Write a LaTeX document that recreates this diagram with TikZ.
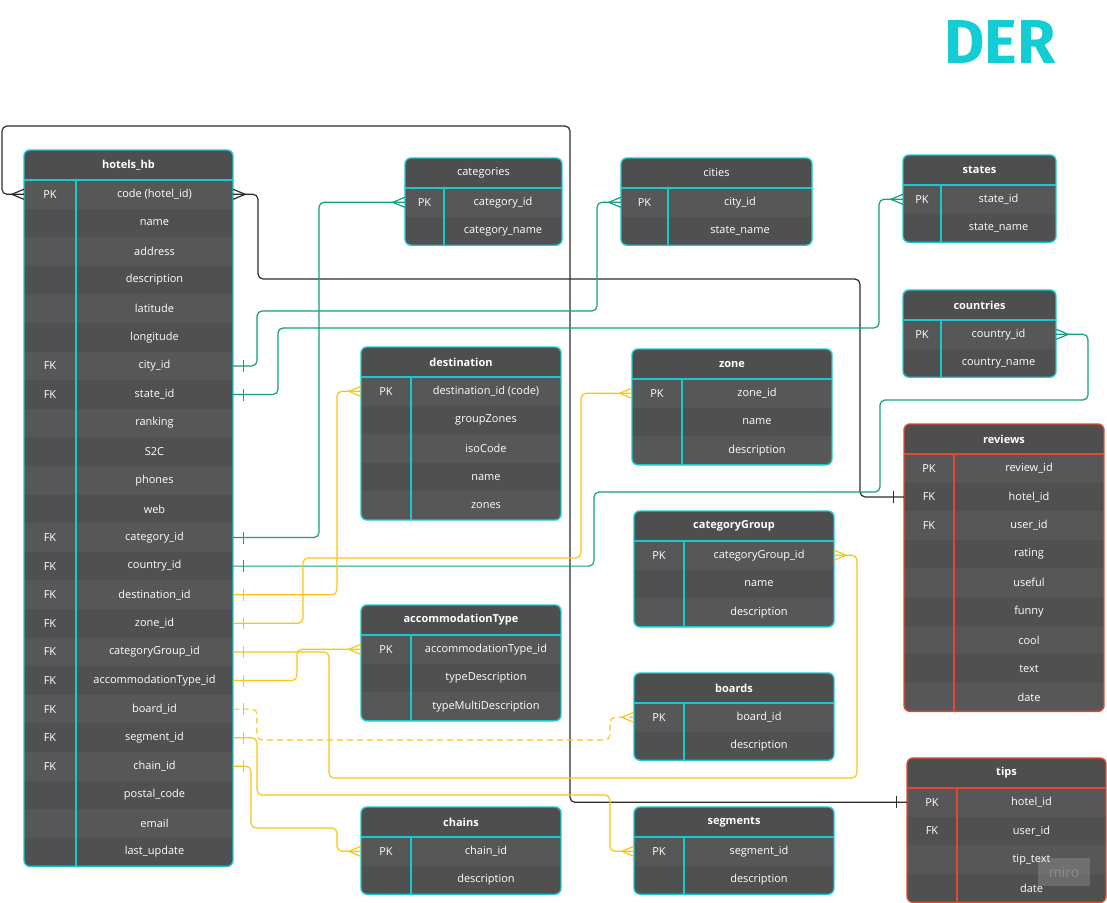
\documentclass[tikz,border=0pt]{standalone}
\usepackage{fontspec}
\setmainfont{Open Sans}
\newfontfamily\derfont{Fira Sans}
\usetikzlibrary{arrows.meta}
\definecolor{dercyan}{RGB}{20,204,212}
\definecolor{tblcyan}{RGB}{22,200,208}
\definecolor{tblred}{RGB}{226,72,46}
\definecolor{headfill}{RGB}{78,78,78}
\definecolor{rowa}{RGB}{87,87,87}
\definecolor{rowb}{RGB}{80,80,80}
\definecolor{linkteal}{RGB}{20,158,128}
\definecolor{linkyellow}{RGB}{250,199,16}
\definecolor{linkdark}{RGB}{45,45,45}

% crow's foot (many) and single bar (one)
\pgfdeclarearrow{
  name = Crow,
  setup code = {
    \pgfarrowssettipend{0pt}
    \pgfarrowssetlineend{0pt}
    \pgfarrowssetbackend{-12pt}
    \pgfarrowsupperhullpoint{0pt}{5pt}
    \pgfarrowsupperhullpoint{-12pt}{0pt}
  },
  drawing code = {
    \pgfsetdash{}{0pt}
    \pgfpathmoveto{\pgfqpoint{0pt}{5pt}}
    \pgfpathlineto{\pgfqpoint{-12pt}{0pt}}
    \pgfpathlineto{\pgfqpoint{0pt}{-5pt}}
    \pgfusepathqstroke
  }
}
\pgfdeclarearrow{
  name = One,
  setup code = {
    \pgfarrowssettipend{0pt}
    \pgfarrowssetlineend{0pt}
    \pgfarrowssetbackend{-10pt}
    \pgfarrowsupperhullpoint{0pt}{6pt}
    \pgfarrowsupperhullpoint{-10pt}{6pt}
  },
  drawing code = {
    \pgfsetdash{}{0pt}
    \pgfpathmoveto{\pgfqpoint{-10pt}{6pt}}
    \pgfpathlineto{\pgfqpoint{-10pt}{-6pt}}
    \pgfusepathqstroke
  }
}

\tikzset{
  celltext/.style={text=white, inner sep=0pt, minimum height=28.6pt,
    font=\fontsize{11}{13}\selectfont},
  headtext/.style={text=white, inner sep=0pt, font=\fontsize{11}{13}\selectfont},
  rel/.style={line width=1.2pt, rounded corners=5pt, One-Crow}
}

% table: name, left, top, width, key column, border colour, title, rows
\newcommand{\erdtable}[8]{%
  \foreach[count=\n] \kk/\ff in {#8} {\xdef\rowcount{\n}}
  \pgfmathsetmacro\tabbot{#3+30+\rowcount*28.6}
  \begin{scope}
    \clip[rounded corners=6pt] (#2,#3) rectangle (#2+#4,\tabbot);
    \fill[headfill] (#2,#3) rectangle (#2+#4,#3+30);
    \foreach[count=\r] \kk/\ff in {#8} {
      \pgfmathsetmacro\ya{#3+30+(\r-1)*28.6}
      \ifodd\r\relax\def\rowshade{rowa}\else\def\rowshade{rowb}\fi
      \fill[\rowshade] (#2,\ya) rectangle (#2+#4,\ya+28.6);
      \node[celltext, minimum width={#5*1pt}] (#1-key\r) at (#2+#5/2,\ya+14.3) {\kk};
      \node[celltext, minimum width={(#4-#5)*1pt}] (#1-\r) at (#2+#5/2+#4/2,\ya+14.3) {\ff};
    }
  \end{scope}
  \draw[#6, line width=1.3pt] (#2,#3+30) -- (#2+#4,#3+30);
  \draw[#6, line width=1.3pt] (#2+#5,#3+30) -- (#2+#5,\tabbot);
  \draw[#6, line width=1.4pt, rounded corners=6pt] (#2,#3) rectangle (#2+#4,\tabbot);
  \node[headtext] (#1) at (#2+#4/2,#3+15) {#7};
}

\begin{document}
\begin{tikzpicture}[x=1pt, y=-1pt, line join=round]
  \useasboundingbox (0,0) rectangle (1107,902);
  \fill[white] (0,0) rectangle (1107,902);

  % Title
  \node[text=dercyan, anchor=base, inner sep=0pt,
        font=\fontsize{62}{62}\derfont\bfseries] (der) at (1000,63) {DER};

  % Tables
  \erdtable{hotels}{24}{150}{209}{52}{tblcyan}{\bfseries hotels\_hb}{PK/code (hotel\_id), /name, /address, /description, /latitude, /longitude, FK/city\_id, FK/state\_id, /ranking, /S2C, /phones, /web, FK/category\_id, FK/country\_id, FK/destination\_id, FK/zone\_id, FK/categoryGroup\_id, FK/accommodationType\_id, FK/board\_id, FK/segment\_id, FK/chain\_id, /postal\_code, /email, /last\_update}
  \erdtable{categories}{405}{158}{157}{39}{tblcyan}{categories}{PK/category\_id, /category\_name}
  \erdtable{cities}{621}{158}{191}{47}{tblcyan}{cities}{PK/city\_id, /state\_name}
  \erdtable{states}{903}{155}{153}{38}{tblcyan}{\bfseries states}{PK/state\_id, /state\_name}
  \erdtable{countries}{903}{290}{153}{38}{tblcyan}{\bfseries countries}{PK/country\_id, /country\_name}
  \erdtable{destination}{361}{347}{200}{50}{tblcyan}{\bfseries destination}{PK/destination\_id (code), /groupZones, /isoCode, /name, /zones}
  \erdtable{zone}{632}{349}{200}{50}{tblcyan}{\bfseries zone}{PK/zone\_id, /name, /description}
  \erdtable{reviews}{904}{424}{200}{50}{tblred}{\bfseries reviews}{PK/review\_id, FK/hotel\_id, FK/user\_id, /rating, /useful, /funny, /cool, /text, /date}
  \erdtable{catgroup}{634}{511}{200}{50}{tblcyan}{\bfseries categoryGroup}{PK/categoryGroup\_id, /name, /description}
  \erdtable{acctype}{361}{605}{200}{50}{tblcyan}{\bfseries accommodationType}{PK/accommodationType\_id, /typeDescription, /typeMultiDescription}
  \erdtable{boards}{634}{673}{200}{50}{tblcyan}{\bfseries boards}{PK/board\_id, /description}
  \erdtable{tips}{907}{758}{199}{50}{tblred}{\bfseries tips}{PK/hotel\_id, FK/user\_id, /tip\_text, /date}
  \erdtable{chains}{361}{807}{200}{50}{tblcyan}{\bfseries chains}{PK/chain\_id, /description}
  \erdtable{segments}{634}{807}{200}{50}{tblcyan}{\bfseries segments}{PK/segment\_id, /description}

  % hotels to tips and reviews
  \draw[rel, linkdark, Crow-One] (hotels-key1.west) -| (2,126) -| (570,500) |- (tips-key1.west);
  \draw[rel, linkdark, Crow-One] (hotels-1.east) -| (258,279) -| (860,400) |- (reviews-key2.west);

  % location and category links
  \draw[rel, linkteal] (hotels-7.east) -| (257,311) -| (597,250) |- (cities-key1.west);
  \draw[rel, linkteal] (hotels-8.east) -| (278,328) -| (879,250) |- (states-key1.west);
  \draw[rel, linkteal] (hotels-13.east) -| (319,400) |- (categories-key1.west);
  \draw[rel, linkteal] (hotels-14.east) -| (594,492) -| (880,400) -| (1088,360) |- (countries-1.east);

  % hotelbeds catalogue links
  \draw[rel, linkyellow] (hotels-15.east) -| (337,450) |- (destination-key1.west);
  \draw[rel, linkyellow] (hotels-16.east) -| (303,558) -| (581,450) |- (zone-key1.west);
  \draw[rel, linkyellow] (hotels-17.east) -| (329,778) -| (857,650) |- (catgroup-1.east);
  \draw[rel, linkyellow] (hotels-18.east) -| (297,665) |- (acctype-key1.west);
  \draw[rel, linkyellow, dash pattern=on 6pt off 4pt] (hotels-19.east) -| (257,740) -| (610,730) |- (boards-key1.west);
  \draw[rel, linkyellow] (hotels-20.east) -| (257,795) -| (610,830) |- (segments-key1.west);
  \draw[rel, linkyellow] (hotels-21.east) -| (251,828) -| (337,840) |- (chains-key1.west);

  % watermark
  \node[fill=white, fill opacity=0.15, text opacity=1, text=white!55!black,
        minimum width=52pt, minimum height=28pt, inner sep=0pt,
        font=\fontsize{14}{14}\selectfont] (miro) at (1064,872) {miro};
\end{tikzpicture}
\end{document}
